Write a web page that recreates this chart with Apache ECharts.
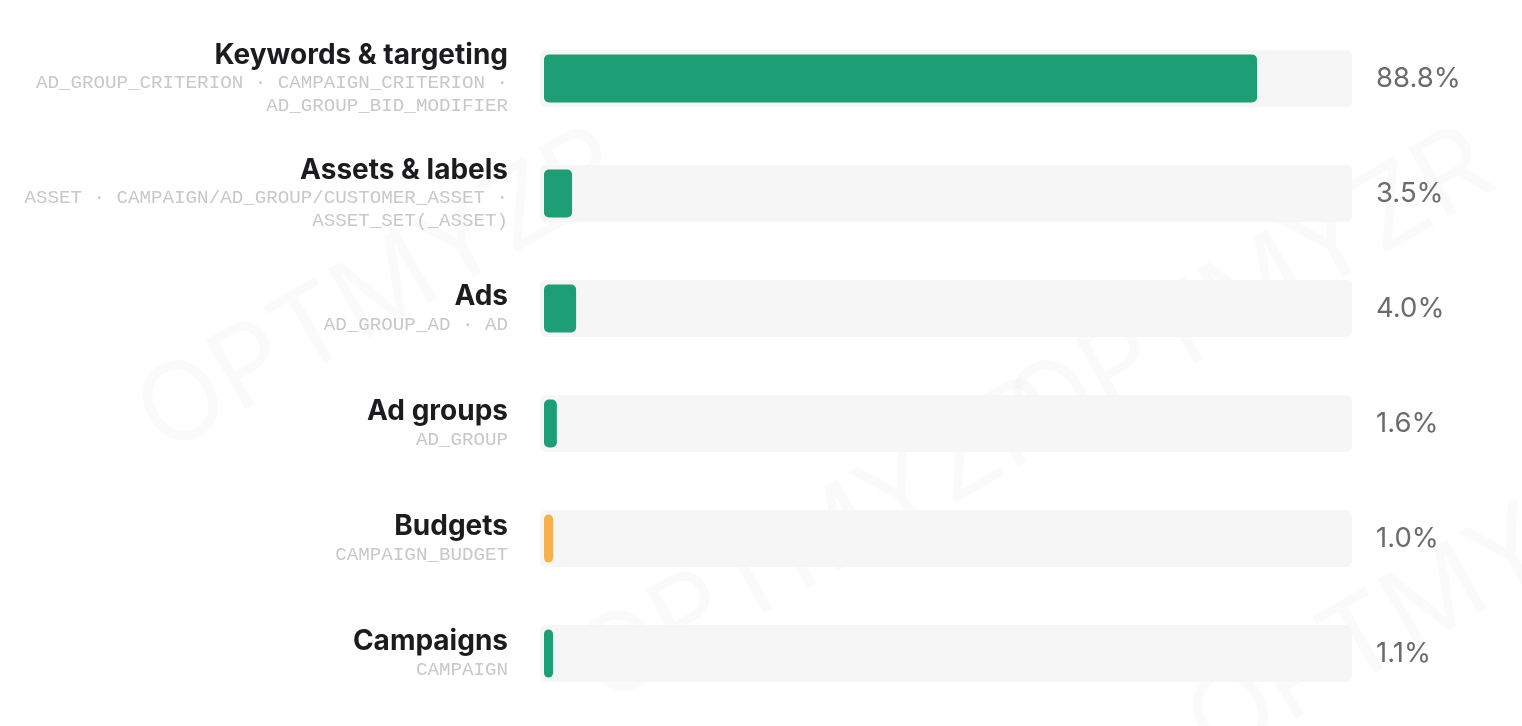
<!DOCTYPE html>
<html><head><meta charset="utf-8">
<script src="https://cdn.jsdelivr.net/npm/echarts@6/dist/echarts.min.js"></script>
<style>html,body{margin:0;padding:0;background:#fff}#c{width:1522px;height:726px}</style>
</head><body><div id="c"></div>
<script>
const categories = ['Keywords & targeting','Assets & labels','Ads','Ad groups','Budgets','Campaigns'];
const subtitles = [
  'AD_GROUP_CRITERION · CAMPAIGN_CRITERION ·\nAD_GROUP_BID_MODIFIER',
  'ASSET · CAMPAIGN/AD_GROUP/CUSTOMER_ASSET ·\nASSET_SET(_ASSET)',
  'AD_GROUP_AD · AD',
  'AD_GROUP',
  'CAMPAIGN_BUDGET',
  'CAMPAIGN'
];
const values = [88.8, 3.5, 4.0, 1.6, 1.0, 1.1];
const barColors = ['#1e9e74','#1e9e74','#1e9e74','#1e9e74','#f5b14c','#1e9e74'];

const chart = echarts.init(document.getElementById('c'));
const gTop = 21, gBottom = 15;
chart.setOption({
  animation:false,
  graphic: [[120,110],[560,360],[990,110],[1170,420],[320,720],[760,720],[1190,720]].map(p=>({
    type:'text', left:p[0], top:p[1], rotation:Math.PI/6,
    style:{text:'OPTMYZR', fontSize:110, fontFamily:'Inter', fill:'rgba(0,0,0,0.018)'}, z:-1
  })),
  grid:[
    {left:544, right:175, top:gTop, bottom:gBottom},
    {left:540, right:170, top:gTop, bottom:gBottom}
  ],
  xAxis:[
    {gridIndex:0, type:'value', min:0, max:100, show:false},
    {gridIndex:1, type:'value', min:0, max:1, show:false}
  ],
  yAxis:[
    {gridIndex:0, type:'category', data:categories, inverse:true,
     axisLine:{show:false}, axisTick:{show:false},
     axisLabel:{margin:36, align:'right',
       formatter:(v,i)=>'{t|'+v+'}\n'+subtitles[i].split('\n').map(s=>'{s|'+s+'}').join('\n'),
       rich:{
         t:{fontFamily:'Inter', fontWeight:'bold', fontSize:28, color:'#1c1c1e', lineHeight:32, align:'right'},
         s:{fontFamily:'"Courier New", "Liberation Mono", monospace', fontSize:19.2, color:'#c8c8c8', lineHeight:23, align:'right'}
       }}},
    {gridIndex:1, type:'category', data:categories, inverse:true, show:false}
  ],
  series:[
    {type:'bar', xAxisIndex:1, yAxisIndex:1, barWidth:57, z:1,
     data:values.map(()=>1),
     itemStyle:{color:'#f6f6f6', borderRadius:6},
     label:{show:true, position:'right', distance:24, fontFamily:'Inter', fontSize:27.5, color:'#6b6b6b',
       formatter:p=>values[p.dataIndex].toFixed(1)+'%'}},
    {type:'bar', xAxisIndex:0, yAxisIndex:0, barWidth:48, z:2, barMinHeight:9,
     data:values.map((v,i)=>({value:v, itemStyle:{color:barColors[i]}})),
     itemStyle:{borderRadius:5}}
  ]
});
</script></body></html>
